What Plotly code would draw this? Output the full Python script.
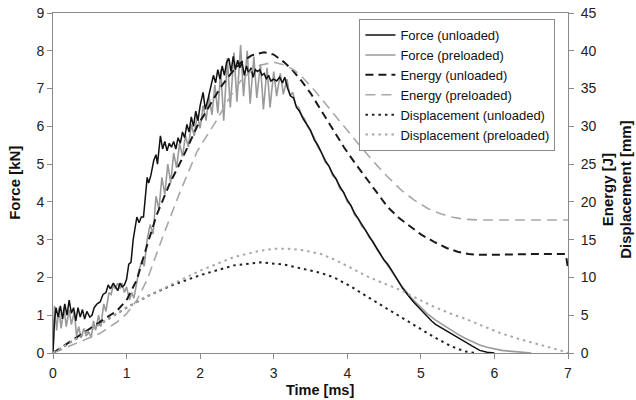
import plotly.graph_objects as go

# ---------------- data ----------------
# Force (unloaded) [kN]
t_force_unl = [0.00, 0.02, 0.04, 0.07, 0.10, 0.13, 0.16, 0.19, 0.22, 0.25, 0.28, 0.31, 0.34, 0.37, 0.40,
               0.43, 0.46, 0.50, 0.53, 0.56, 0.60, 0.64, 0.68, 0.72, 0.75, 0.78, 0.82, 0.85, 0.88, 0.91,
               0.94, 0.97, 1.00, 1.03, 1.06, 1.09, 1.12, 1.14, 1.17, 1.20, 1.23, 1.26, 1.28, 1.30, 1.33,
               1.37, 1.40, 1.42, 1.46, 1.49, 1.52, 1.55, 1.58, 1.61, 1.64, 1.67, 1.70, 1.73, 1.76, 1.79,
               1.82, 1.85, 1.88, 1.91, 1.94, 1.97, 2.00, 2.04, 2.07, 2.11, 2.15, 2.18, 2.21, 2.24, 2.27,
               2.30, 2.33, 2.36, 2.39, 2.42, 2.45, 2.48, 2.51, 2.54, 2.57, 2.60, 2.63, 2.66, 2.69, 2.72,
               2.75, 2.78, 2.81, 2.84, 2.87, 2.90, 2.93, 2.96, 3.00, 3.04, 3.08, 3.12, 3.15, 3.19, 3.23,
               3.27, 3.31, 3.35, 3.40, 3.45, 3.50, 3.55, 3.60, 3.65, 3.70, 3.75, 3.80, 3.85, 3.90, 3.95,
               4.00, 4.05, 4.10, 4.15, 4.20, 4.25, 4.30, 4.35, 4.40, 4.45, 4.50, 4.55, 4.60, 4.65, 4.70,
               4.75, 4.80, 4.85, 4.90, 4.95, 5.00, 5.05, 5.10, 5.15, 5.20, 5.30, 5.40, 5.50, 5.60, 5.70,
               5.80, 5.90, 6.00]
force_unl = [0.00, 0.85, 1.20, 0.95, 1.25, 0.90, 1.30, 1.00, 1.40, 1.05, 1.20, 0.85, 1.20, 0.95, 1.15,
             0.90, 1.10, 0.95, 1.00, 1.20, 1.30, 1.35, 1.55, 1.60, 1.80, 1.70, 1.85, 1.75, 1.65, 1.85,
             1.75, 1.80, 1.95, 2.35, 2.40, 3.00, 3.30, 3.60, 3.45, 3.60, 3.60, 4.20, 4.65, 4.50, 4.70,
             5.10, 5.25, 5.00, 5.75, 5.40, 5.60, 5.35, 5.55, 5.45, 5.60, 5.40, 5.70, 5.55, 5.85, 5.70,
             6.05, 5.85, 6.25, 6.00, 6.40, 6.15, 6.55, 6.90, 6.45, 6.75, 7.10, 7.35, 7.15, 7.50, 7.25,
             7.60, 7.35, 7.70, 7.80, 7.45, 7.85, 7.50, 7.75, 7.55, 7.70, 7.35, 7.60, 7.40, 7.55, 7.30,
             7.50, 7.45, 7.50, 7.35, 7.40, 7.25, 7.35, 7.20, 7.25, 7.20, 7.30, 7.15, 7.30, 7.00, 6.80,
             6.75, 6.50, 6.40, 6.20, 6.05, 5.90, 5.65, 5.50, 5.30, 5.10, 4.95, 4.75, 4.60, 4.40, 4.25,
             4.05, 3.90, 3.70, 3.55, 3.40, 3.25, 3.10, 2.95, 2.80, 2.62, 2.46, 2.35, 2.20, 2.02, 1.88,
             1.72, 1.58, 1.47, 1.35, 1.25, 1.13, 1.03, 0.93, 0.84, 0.76, 0.64, 0.54, 0.42, 0.30, 0.18,
             0.07, 0.02, 0.00]

# Force (preloaded) [kN]
t_force_pre = [0.00, 0.02, 0.05, 0.08, 0.11, 0.15, 0.18, 0.22, 0.25, 0.29, 0.32, 0.35, 0.38, 0.42, 0.45,
               0.49, 0.52, 0.55, 0.58, 0.62, 0.65, 0.69, 0.72, 0.76, 0.79, 0.82, 0.85, 0.88, 0.91, 0.94,
               0.97, 1.00, 1.04, 1.07, 1.10, 1.14, 1.17, 1.21, 1.24, 1.28, 1.32, 1.36, 1.40, 1.44, 1.48,
               1.52, 1.56, 1.60, 1.64, 1.68, 1.72, 1.76, 1.80, 1.84, 1.88, 1.92, 1.96, 2.00, 2.04, 2.08,
               2.12, 2.16, 2.20, 2.24, 2.28, 2.32, 2.37, 2.41, 2.46, 2.50, 2.55, 2.59, 2.64, 2.68, 2.73,
               2.77, 2.82, 2.86, 2.91, 2.95, 3.00, 3.04, 3.09, 3.13, 3.18, 3.22, 3.26, 3.30, 3.34, 3.38,
               3.42, 3.46, 3.50, 3.55, 3.60, 3.65, 3.70, 3.75, 3.80, 3.85, 3.90, 3.95, 4.00, 4.05, 4.10,
               4.15, 4.20, 4.25, 4.30, 4.35, 4.40, 4.45, 4.50, 4.55, 4.60, 4.65, 4.70, 4.75, 4.80, 4.85,
               4.90, 4.95, 5.00, 5.10, 5.20, 5.30, 5.40, 5.50, 5.60, 5.70, 5.80, 5.90, 6.00, 6.10, 6.20,
               6.30, 6.40, 6.50]
force_pre = [0.00, 1.25, 0.60, 1.20, 0.65, 1.20, 0.70, 1.15, 0.75, 1.10, 0.45, 0.70, 0.40, 0.65, 0.45,
             0.55, 0.40, 0.85, 0.60, 1.00, 0.70, 1.30, 1.10, 1.60, 1.55, 1.80, 1.70, 1.85, 1.70, 1.85,
             1.60, 1.75, 1.40, 1.60, 1.45, 1.90, 2.20, 2.45, 2.30, 3.00, 3.40, 3.15, 4.15, 3.80, 4.65,
             4.20, 5.00, 4.50, 5.30, 4.90, 5.55, 5.20, 5.75, 5.45, 6.05, 5.75, 6.30, 5.95, 6.55, 6.15,
             6.80, 6.30, 7.10, 6.35, 7.50, 6.15, 7.80, 6.50, 7.95, 6.65, 8.15, 6.80, 8.00, 6.60, 7.85,
             6.75, 7.65, 6.45, 7.55, 6.50, 7.45, 6.80, 7.40, 6.85, 7.25, 6.80, 6.90, 6.55, 6.50, 6.30,
             6.20, 6.00, 5.85, 5.70, 5.45, 5.30, 5.05, 4.95, 4.70, 4.60, 4.35, 4.25, 4.00, 3.90, 3.65,
             3.55, 3.35, 3.25, 3.05, 2.95, 2.75, 2.60, 2.45, 2.30, 2.15, 2.02, 1.88, 1.75, 1.62, 1.50,
             1.40, 1.30, 1.20, 1.02, 0.87, 0.74, 0.62, 0.50, 0.39, 0.29, 0.21, 0.15, 0.10, 0.07, 0.05,
             0.03, 0.02, 0.00]

# Energy [J]
t_energy_unl = [0.00, 0.30, 0.60, 0.87, 1.00, 1.14, 1.28, 1.41, 1.59, 1.77, 1.96, 2.14, 2.28, 2.42, 2.55,
                2.70, 2.87, 3.00, 3.14, 3.25, 3.37, 3.50, 3.64, 3.80, 3.95, 4.10, 4.28, 4.40, 4.55, 4.70,
                4.86, 5.00, 5.18, 5.35, 5.50, 5.65, 5.78, 6.00, 6.50, 6.97, 7.00]
energy_unl = [0.0, 1.9, 3.9, 5.6, 7.0, 9.7, 14.3, 18.3, 22.5, 26.0, 30.0, 33.0, 35.2, 37.0, 38.4,
              39.4, 39.8, 39.5, 38.5, 37.5, 36.1, 34.4, 32.2, 29.8, 27.3, 25.2, 22.9, 21.3, 19.3, 17.9,
              16.7, 15.7, 14.7, 13.9, 13.4, 13.1, 13.0, 13.0, 13.1, 13.1, 11.2]

t_energy_pre = [0.00, 0.40, 0.64, 0.87, 1.00, 1.14, 1.28, 1.50, 1.73, 1.96, 2.23, 2.40, 2.55, 2.70, 2.82,
                3.00, 3.15, 3.27, 3.40, 3.55, 3.70, 3.85, 4.05, 4.20, 4.36, 4.55, 4.73, 4.90, 5.10, 5.25,
                5.41, 5.60, 5.80, 7.00]
energy_pre = [0.0, 1.6, 2.6, 4.1, 5.2, 7.0, 9.7, 15.6, 21.4, 26.7, 30.9, 33.8, 36.0, 37.4, 38.1,
              38.5, 38.1, 37.5, 36.4, 34.8, 33.0, 31.2, 28.9, 27.1, 25.3, 23.3, 21.6, 20.3, 19.1, 18.5,
              18.0, 17.7, 17.6, 17.6]

# Displacement [mm]
t_disp_unl = [0.00, 0.50, 1.00, 1.30, 1.60, 2.00, 2.46, 2.82, 3.14, 3.37, 3.64, 3.82, 4.05, 4.28, 4.50,
              4.73, 4.95, 5.18, 5.41, 5.60, 5.75]
disp_unl = [0.0, 3.0, 6.0, 7.6, 8.9, 10.3, 11.6, 12.0, 11.7, 11.2, 10.6, 10.0, 8.8, 7.4, 6.1,
            4.8, 3.4, 2.1, 0.9, 0.2, 0.0]

t_disp_pre = [0.00, 0.50, 1.00, 1.30, 1.60, 2.00, 2.46, 2.80, 3.00, 3.20, 3.40, 3.64, 3.82, 4.05, 4.28,
              4.50, 4.73, 4.95, 5.18, 5.41, 5.64, 5.86, 6.09, 6.32, 6.55, 6.75, 6.95, 7.00]
disp_pre = [0.0, 3.0, 6.0, 7.6, 9.0, 10.9, 12.7, 13.5, 13.8, 13.8, 13.6, 13.1, 12.4, 11.2, 10.1,
            9.2, 8.3, 7.2, 6.1, 5.2, 4.4, 3.5, 2.6, 1.9, 1.3, 0.7, 0.2, 0.0]

x_ticks = [0, 1, 2, 3, 4, 5, 6, 7]
force_ticks = [0, 1, 2, 3, 4, 5, 6, 7, 8, 9]
right_ticks = [0, 5, 10, 15, 20, 25, 30, 35, 40, 45]

# ---------------- figure ----------------
FONT = "Liberation Sans, Arial, sans-serif"
AXIS_GREY = "#8a8a8a"

fig = go.Figure()

fig.add_trace(go.Scatter(x=t_force_pre, y=force_pre, name="Force (preloaded)", mode="lines",
                         line=dict(color="#9a9a9a", width=1.6), legendrank=2))
fig.add_trace(go.Scatter(x=t_force_unl, y=force_unl, name="Force (unloaded)", mode="lines",
                         line=dict(color="#111111", width=1.5), legendrank=1))
fig.add_trace(go.Scatter(x=t_energy_unl, y=energy_unl, name="Energy (unloaded)", mode="lines", yaxis="y2",
                         line=dict(color="#1a1a1a", width=2, dash="8px,5px"), legendrank=3))
fig.add_trace(go.Scatter(x=t_energy_pre, y=energy_pre, name="Energy (preloaded)", mode="lines", yaxis="y2",
                         line=dict(color="#a8a8a8", width=1.6, dash="10px,6px"), legendrank=4))
fig.add_trace(go.Scatter(x=t_disp_unl, y=disp_unl, name="Displacement (unloaded)", mode="lines", yaxis="y2",
                         line=dict(color="#222222", width=2, dash="2.5px,4px"), legendrank=5))
fig.add_trace(go.Scatter(x=t_disp_pre, y=disp_pre, name="Displacement (preloaded)", mode="lines", yaxis="y2",
                         line=dict(color="#a8a8a8", width=2, dash="2.5px,4px"), legendrank=6))

axis_common = dict(showgrid=False, zeroline=False, showline=True, linecolor=AXIS_GREY, linewidth=1,
                   ticks="outside", ticklen=5, tickcolor=AXIS_GREY, tickwidth=1, automargin=False,
                   tickfont=dict(family=FONT, size=14, color="#222"))

fig.update_layout(
    width=636, height=400,
    margin=dict(l=53, r=68, t=13, b=47, autoexpand=False),
    paper_bgcolor="white", plot_bgcolor="white",
    font=dict(family=FONT, size=14, color="#111"),
    xaxis=dict(range=[0, 7], tickvals=x_ticks, mirror=True, ticklabelstandoff=2, **axis_common),
    yaxis=dict(range=[0, 9], tickvals=force_ticks, **axis_common),
    yaxis2=dict(range=[0, 45], tickvals=right_ticks, overlaying="y", side="right",
                ticklabelstandoff=4, **axis_common),
    showlegend=True,
    legend=dict(x=0.595, y=0.982, xanchor="left", yanchor="top", bgcolor="white",
                bordercolor=AXIS_GREY, borderwidth=1, font=dict(family=FONT, size=13, color="#111"),
                itemwidth=30, traceorder="normal"),
    annotations=[
        dict(text="<b>Time [ms]</b>", xref="paper", yref="paper", x=0.518, y=-0.109,
             xanchor="center", yanchor="middle", showarrow=False, font=dict(size=14.5, color="#111")),
        dict(text="<b>Force [kN]</b>", xref="paper", yref="paper", x=-0.076, y=0.5,
             xanchor="center", yanchor="middle", textangle=-90, showarrow=False,
             font=dict(size=15, color="#111")),
        dict(text="<b>Energy [J]</b>", xref="paper", yref="paper", x=1.076, y=0.479,
             xanchor="center", yanchor="middle", textangle=-90, showarrow=False,
             font=dict(size=15, color="#111")),
        dict(text="<b>Displacement [mm]</b>", xref="paper", yref="paper", x=1.11, y=0.479,
             xanchor="center", yanchor="middle", textangle=-90, showarrow=False,
             font=dict(size=15, color="#111")),
    ],
)

fig.write_html("out.html", config={"displayModeBar": False},
               post_script="document.body.style.margin='0';document.body.style.overflow='hidden';")
